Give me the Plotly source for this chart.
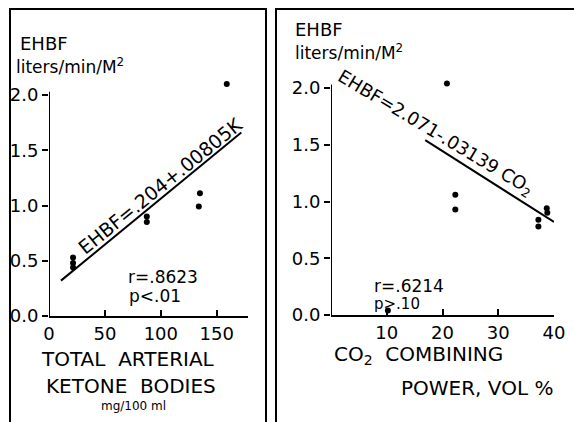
import plotly.graph_objects as go

# Left panel: total arterial ketone bodies vs EHBF
ketone_x = [159, 135, 134, 87.5, 87.5, 21.5, 21.5, 21.5]
ketone_y = [2.10, 1.11, 0.99, 0.90, 0.85, 0.53, 0.48, 0.44]
ketone_fit_x = [10.7, 172]
ketone_fit_y = [0.32, 1.66]

# Right panel: CO2 combining power vs EHBF
co2_x = [20.8, 22.3, 22.3, 38.7, 38.8, 37.2, 37.2, 10.2]
co2_y = [2.04, 1.06, 0.93, 0.94, 0.90, 0.84, 0.78, 0.04]
co2_fit_x = [16.9, 40]
co2_fit_y = [1.54, 0.82]

y_ticks = [0, 0.5, 1.0, 1.5, 2.0]
y_tick_text = ["0.0", "0.5", "1.0", "1.5", "2.0"]
left_x_ticks = [0, 50, 100, 150]
right_x_ticks = [10, 20, 30, 40]

FONT = "DejaVu Sans"
W, H = 574, 422
Y_TOP = 2.2           # range headroom so the top points are drawn

fig = go.Figure()
fig.add_trace(go.Scatter(x=ketone_x, y=ketone_y, mode="markers", xaxis="x", yaxis="y",
                         marker=dict(color="black", size=6), cliponaxis=False))
fig.add_trace(go.Scatter(x=ketone_fit_x, y=ketone_fit_y, mode="lines", xaxis="x", yaxis="y",
                         line=dict(color="black", width=2), cliponaxis=False))
fig.add_trace(go.Scatter(x=co2_x, y=co2_y, mode="markers", xaxis="x2", yaxis="y2",
                         marker=dict(color="black", size=6), cliponaxis=False))
fig.add_trace(go.Scatter(x=co2_fit_x, y=co2_fit_y, mode="lines", xaxis="x2", yaxis="y2",
                         line=dict(color="black", width=2), cliponaxis=False))

def px_x(p):
    return p / W

def px_y(p):
    return 1 - p / H

axis_common = dict(showgrid=False, zeroline=False, automargin=False,
                   tickcolor="black", tickwidth=2, ticklen=6,
                   tickfont=dict(family=FONT, size=18, color="black"))

fig.update_layout(
    width=W, height=H, margin=dict(l=0, r=0, t=0, b=0),
    paper_bgcolor="white", plot_bgcolor="white", showlegend=False,
    xaxis=dict(domain=[px_x(49), px_x(248)], range=[0, 178], anchor="y",
               showline=True, linecolor="black", linewidth=2,
               tickvals=left_x_ticks, ticks="inside", **axis_common),
    yaxis=dict(domain=[px_y(316), px_y(316 - Y_TOP * 110.5)], range=[0, Y_TOP], anchor="x",
               showline=False,
               tickvals=y_ticks, ticktext=y_tick_text, ticks="outside", **axis_common),
    xaxis2=dict(domain=[px_x(331), px_x(554)], range=[0, 40], anchor="y2",
                showline=True, linecolor="black", linewidth=2,
                tickvals=right_x_ticks, ticks="inside", **axis_common),
    yaxis2=dict(domain=[px_y(315), px_y(315 - Y_TOP * 113.5)], range=[0, Y_TOP], anchor="x2",
                showline=False,
                tickvals=y_ticks, ticktext=y_tick_text, ticks="outside", **axis_common),
)

# y axis lines only up to 2.0, as in the reference
for xr, yr in [("x", "y"), ("x2", "y2")]:
    fig.add_shape(type="line", xref=xr, yref=yr, x0=0, x1=0, y0=0, y1=2.03,
                  line=dict(color="black", width=2))

def ann(text, x, y, size, xanchor="left", angle=0, xref="paper", yref="paper"):
    fig.add_annotation(text=text, x=x, y=y, xref=xref, yref=yref, showarrow=False,
                       xanchor=xanchor, yanchor="middle", textangle=angle,
                       font=dict(family=FONT, size=size, color="black"))

# Left panel text
ann("EHBF", px_x(18), px_y(43), 18)
ann("liters/min/M<sup>2</sup>", px_x(14), px_y(66), 17)
ann("r=.8623", px_x(126), px_y(277), 17)
ann("p<.01", px_x(127), px_y(296), 17)
ann("TOTAL  ARTERIAL", px_x(128), px_y(359), 20, xanchor="center")
ann("KETONE  BODIES", px_x(131), px_y(386), 20, xanchor="center")
ann("mg/100 ml", px_x(133), px_y(406), 12, xanchor="center")
ann("EHBF=.204+.00805K", 99, 1.18, 19, xanchor="center", angle=-39, xref="x", yref="y")

# Right panel text
ann("EHBF", px_x(293), px_y(30), 18)
ann("liters/min/M<sup>2</sup>", px_x(293), px_y(52), 17)
ann("r=.6214", px_x(372), px_y(286), 17)
ann("p>.10", px_x(372), px_y(304), 15)
ann("CO<sub>2</sub>  COMBINING", px_x(418), px_y(355), 20, xanchor="center")
ann("POWER, VOL %", px_x(477), px_y(388), 20, xanchor="center")
ann("EHBF=2.071-.03139 CO<sub>2</sub>", 18.6, 1.60, 18, xanchor="center", angle=31, xref="x2", yref="y2")

# Panel frames (bottom and right edges fall outside the page)
frame = dict(color="black", width=2)
for x0, y0, x1, y1 in [
    (10, 9, 266, 440),
    (276, 9, 600, 440),
]:
    fig.add_shape(type="rect", xref="paper", yref="paper", layer="above",
                  x0=px_x(x0), y0=px_y(y1), x1=px_x(x1), y1=px_y(y0),
                  line=frame, fillcolor="rgba(0,0,0,0)")

fig.write_html(
    "out.html",
    config={"displayModeBar": False},
    post_script="document.body.style.margin='0';document.body.style.overflow='hidden';",
)
